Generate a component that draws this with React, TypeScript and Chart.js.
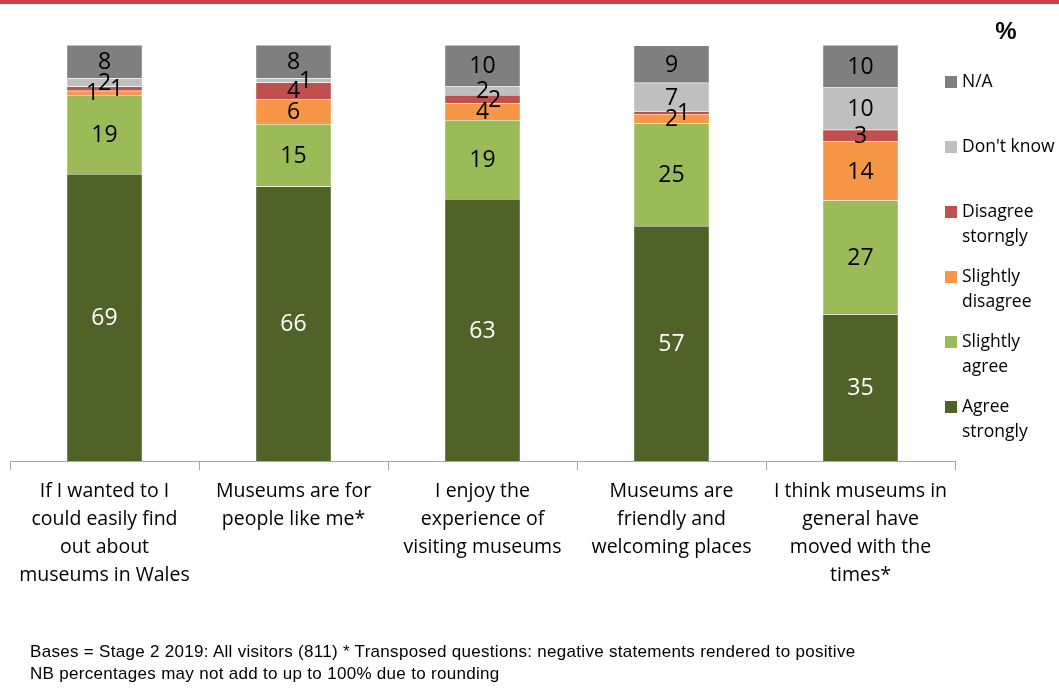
import React, { useEffect, useRef } from "react";
import { Chart, registerables } from "chart.js";

Chart.register(...registerables);

// ---- Data ----
const categories: string[][] = [
  ["If I wanted to I", "could easily find", "out about", "museums in Wales"],
  ["Museums are for", "people like me*"],
  ["I enjoy the", "experience of", "visiting museums"],
  ["Museums are", "friendly and", "welcoming places"],
  ["I think museums in", "general have", "moved with the", "times*"],
];
const agreeStrongly = [69, 66, 63, 56.5, 35.3];
const slightlyAgree = [19, 15, 19, 24.7, 27.3];
const slightlyDisagree = [1, 6, 4, 2.2, 14.2];
const disagreeStrongly = [1, 4, 2, 0.7, 2.8];
const dontKnow = [2, 1, 2, 6.8, 10.3];
const notApplicable = [8, 8, 10, 9.0, 10.1];
const seriesLabels = [
  "Agree strongly",
  "Slightly agree",
  "Slightly disagree",
  "Disagree storngly",
  "Don't know",
  "N/A",
];
const seriesColors = ["#4f6228", "#9bbb59", "#f79646", "#c0504d", "#bfbfbf", "#7f7f7f"];
const labelColors = ["#ffffff", "#000000", "#000000", "#000000", "#000000", "#000000"];
const footerLines = [
  "Bases = Stage 2 2019: All visitors (811) * Transposed questions: negative statements rendered to positive",
  "NB percentages may not add to up to 100% due to rounding",
];

const LABEL_FONT = "23px 'Open Sans', 'Noto Sans', sans-serif";
const LEGEND_FONT = "17.5px 'Open Sans', 'Noto Sans', sans-serif";

const dataLabelPlugin = {
  id: "segLabels",
  afterDatasetsDraw(chart: any) {
    const ctx = chart.ctx;
    ctx.save();
    ctx.font = LABEL_FONT;
    ctx.textAlign = "center";
    ctx.textBaseline = "middle";
    const nCat = chart.data.labels.length;
    for (let j = 0; j < nCat; j++) {
      const placed: { x: number; y: number; dx: number; text: string; color: string }[] = [];
      chart.data.datasets.forEach((ds: any, i: number) => {
        const meta = chart.getDatasetMeta(i);
        const el = meta.data[j];
        if (!el) return;
        const p = el.getProps(["x", "y", "base"], true);
        let cy = (p.y + p.base) / 2;
        const hits = (y: number, dx: number) =>
          placed.filter((q) => Math.abs(q.y - y) < 15 && Math.abs(q.dx - dx) < 6);
        let dx = 0;
        if (hits(cy, 0).length) {
          if (!hits(cy, 12).length) dx = 12;
          else {
            const centre = hits(cy, 0);
            const strong = centre.filter((q) => Math.abs(q.y - cy) < 11);
            if (strong.length) {
              strong.forEach((q) => (q.dx = -12));
            } else {
              const minY = Math.min(...centre.map((q) => q.y));
              cy = Math.min(cy, minY - 14);
            }
          }
        }
        placed.push({ x: p.x, y: cy, dx, text: String(Math.round(ds.data[j])), color: labelColors[i] });
      });
      placed.forEach((q) => {
        ctx.fillStyle = q.color;
        ctx.fillText(q.text, q.x + q.dx, q.y + 1);
      });
    }
    ctx.restore();
  },
};

const legendPlugin = {
  id: "sideLegend",
  afterDraw(chart: any) {
    const ctx = chart.ctx;
    const area = chart.chartArea;
    ctx.save();
    ctx.font = LEGEND_FONT;
    ctx.textBaseline = "middle";
    ctx.textAlign = "left";
    const sqX = area.right - 10;
    const textX = sqX + 17;
    const maxW = chart.width - textX;
    const n = chart.data.datasets.length;
    for (let k = 0; k < n; k++) {
      const i = n - 1 - k;
      const ds = chart.data.datasets[i];
      const y = area.top + 37 + k * 65;
      ctx.fillStyle = ds.backgroundColor;
      ctx.fillRect(sqX, y - 6, 12, 12);
      const words = String(ds.label).split(" ");
      const lines: string[] = [];
      let cur = "";
      words.forEach((w) => {
        const t = cur ? cur + " " + w : w;
        if (ctx.measureText(t).width > maxW && cur) {
          lines.push(cur);
          cur = w;
        } else cur = t;
      });
      if (cur) lines.push(cur);
      ctx.fillStyle = "#000";
      lines.forEach((l, li) => ctx.fillText(l, textX, y + li * 25));
    }
    ctx.font = "bold 24px 'Liberation Sans', Arial, sans-serif";
    ctx.textAlign = "center";
    ctx.fillText("%", 1006, 32);
    ctx.fillStyle = "#d0404a";
    ctx.fillRect(0, 0, chart.width, 4);
    ctx.restore();
  },
};

export default function App() {
  const ref = useRef<HTMLCanvasElement | null>(null);
  useEffect(() => {
    document.body.style.margin = "0";
    if (!ref.current) return;
    const series = [agreeStrongly, slightlyAgree, slightlyDisagree, disagreeStrongly, dontKnow, notApplicable];
    const chart = new Chart(ref.current, {
      type: "bar",
      data: {
        labels: categories,
        datasets: series.map((d, i) => ({
          label: seriesLabels[i],
          data: d,
          backgroundColor: seriesColors[i],
          borderColor: "rgba(255,255,255,0.5)",
          borderWidth: 0.5,
          categoryPercentage: 1,
          barPercentage: 0.4,
        })),
      },
      options: {
        animation: false,
        responsive: false,
        devicePixelRatio: 1,
        layout: { padding: { left: 10, right: 104, top: 45, bottom: 0 } },
        plugins: {
          legend: { display: false },
          tooltip: { enabled: false },
          title: { display: false },
        },
        scales: {
          x: {
            stacked: true,
            grid: {
              display: true,
              drawOnChartArea: false,
              drawTicks: true,
              tickLength: 9,
              color: "#a6a6a6",
              offset: true,
            },
            border: { display: true, color: "#a6a6a6" },
            ticks: {
              color: "#000",
              padding: 7,
              maxRotation: 0,
              autoSkip: false,
              font: { family: "'Open Sans', 'Noto Sans', sans-serif", size: 19.5, lineHeight: 28 / 19.5 },
            },
            afterFit(scale: any) {
              scale.height = 228;
            },
          },
          y: {
            stacked: true,
            display: false,
            min: 0,
            max: 100,
          },
        },
      },
      plugins: [dataLabelPlugin, legendPlugin],
    } as any);
    return () => chart.destroy();
  }, []);

  return (
    <div style={{ position: "relative", width: 1059, height: 689, background: "#fff" }}>
      <canvas ref={ref} width={1059} height={689} style={{ display: "block" }} />
      {footerLines.map((t, i) => (
        <div
          key={i}
          style={{
            position: "absolute",
            left: 30,
            top: 643 + i * 22,
            fontFamily: "'Liberation Sans', Arial, sans-serif",
            fontSize: 17,
            letterSpacing: "0.3px",
            lineHeight: "18px",
            color: "#000",
            whiteSpace: "nowrap",
          }}
        >
          {t}
        </div>
      ))}
    </div>
  );
}
